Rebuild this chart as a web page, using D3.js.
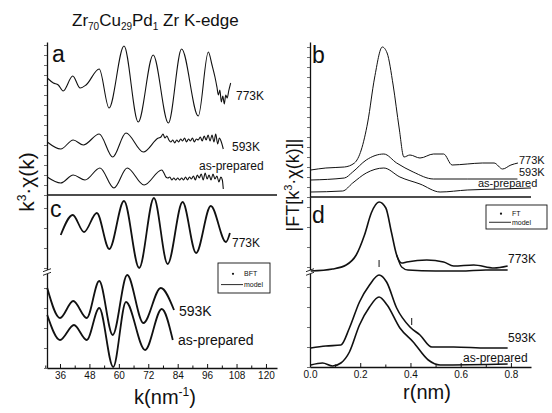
<!DOCTYPE html>
<html>
<head>
<meta charset="utf-8">
<script src="https://cdn.jsdelivr.net/npm/d3@7"></script>
<style>
  body { margin: 0; background: #fff; }
  text { font-family: "Liberation Sans", Arial, sans-serif; fill: #111; }
</style>
</head>
<body>
<div id="chart"></div>
<script>
// k-space tick labels (nm^-1) and r-space tick labels (nm)
var kTicks = [36, 48, 60, 72, 84, 96, 108, 120];
var kMinor = [30, 42, 54, 66, 78, 90, 102, 114];
var rTicks = [0.0, 0.2, 0.4, 0.6, 0.8];
var rMinor = [0.1, 0.3, 0.5, 0.7];

// panel a: k^3 chi(k), arbitrary units, [k, value]
var a773 = [[30.8,117],[33.3,112],[35.3,110],[37.3,104],[41.2,119],[44.2,107],[46.6,110],[52.0,126],
  [56.0,87],[62.1,149],[67.9,73],[74.0,140],[80.2,72],[85.6,146],[92.4,79],[96.5,143],[98,130],
  [99.2,118],[100,108],[100.6,100],[101.2,105],[101.8,93],[102.4,99],[103,91],[103.6,100],
  [104.2,97],[104.8,104],[105.6,112]];
var a593 = [[30.8,53],[36.3,46],[41.4,55],[45.5,50],[52.0,61],[57.5,38],[62.9,62],[70.0,43],[76.1,57],
  [77.2,58],[78,61],[78.8,57],[79.6,59],[80.4,55],[81.2,53],[82,55],[82.8,52],[83.6,55],[84.4,53],
  [85.2,56],[86,54],[86.8,57],[87.6,53],[88.4,56],[89.2,54],[90,57],[90.8,53],[91.6,56],[92.4,55],
  [93.2,58],[94,54],[94.8,59],[95.6,55],[96.4,60],[97.2,54],[98,60],[98.8,53],[99.5,61],[100.3,51],
  [101,57],[101.8,53],[102.6,46]];
var aAsPrep = [[30.8,18],[36.3,12],[41.4,20],[46.2,15],[52.3,27],[58.0,7],[63.4,27],[70.3,10],[77.5,25],
  [78.4,22],[79.2,18],[80,17],[80.8,18],[81.6,15],[82.4,17],[83.2,15],[84,17],[84.8,15],[85.6,17],
  [86.4,15],[87.2,18],[88,15],[88.8,18],[89.6,16],[90.4,19],[91.2,15],[92,20],[92.8,17],[93.6,21],
  [94.4,15],[95.2,22],[96,16],[96.8,20],[97.6,15],[98.4,21],[99.2,16],[100,19],[100.8,13],[101.6,18],
  [102.2,15],[102.6,6]];

// panel c: back-FT and model
var c773 = [[36.3,133],[41.2,153],[45.8,136],[51.0,155],[56.1,119],[62.1,167],[68.3,100],[74.3,170],
  [79.9,104],[86.0,166],[91.5,115],[97.5,162],[103.7,126],[105.3,135]];
var c593 = [[30.8,80],[36.0,50],[41.4,67],[46.9,50],[52.0,87],[57.5,33],[63.4,93],[70.0,45],[77.1,80],[82.5,58]];
var cAsPrep = [[30.8,53],[36.0,28],[41.7,43],[46.9,28],[52.0,60],[57.7,1],[62.9,66],[70.7,18],[77.5,59],[82.0,28]];

// panel b: |FT| in r-space, [r, value]
var b773 = [[0.003,27],[0.063,29],[0.137,30],[0.177,34],[0.204,47],[0.230,75],[0.257,119],[0.288,150],
  [0.307,144],[0.331,112],[0.355,69],[0.374,40],[0.398,42],[0.438,39],[0.492,43],[0.532,43],[0.566,32],
  [0.626,33],[0.686,34],[0.733,34],[0.767,28],[0.800,32],[0.828,34]];
var b593 = [[0.003,17],[0.137,19],[0.170,25],[0.224,37],[0.294,43],[0.345,34],[0.411,25],[0.492,18],
  [0.626,18],[0.826,18]];
var bAsPrep = [[0.003,5],[0.130,6],[0.170,14],[0.224,24],[0.294,29],[0.358,20],[0.438,13],[0.518,5],
  [0.626,7],[0.760,8],[0.880,9]];

// panel d: FT and model
var d773 = [[0.003,96],[0.090,98],[0.144,102],[0.184,112],[0.217,132],[0.244,154],[0.275,165],[0.302,159],
  [0.324,135],[0.345,112],[0.365,104],[0.385,105],[0.465,107],[0.532,105],[0.572,101],[0.652,102],
  [0.733,99],[0.787,101]];
var d773model = [[0.345,112],[0.365,100],[0.39,97],[0.5,96],[0.6,96],[0.7,97],[0.787,97]];
var d593 = [[0.003,19],[0.063,21],[0.123,22],[0.157,39],[0.197,65],[0.237,82],[0.275,92],[0.305,85],
  [0.345,59],[0.398,40],[0.438,32],[0.485,20],[0.572,20],[0.706,19],[0.787,19]];
var dAsPrep = [[0.003,2],[0.050,4],[0.090,1],[0.123,4],[0.157,15],[0.197,42],[0.237,60],[0.275,70],
  [0.307,62],[0.358,39],[0.411,25],[0.471,7],[0.518,2],[0.787,3]];
var dMarks = [[0.275,98],[0.405,40]];

var W = 552, H = 413;
var svg = d3.select("#chart").append("svg").attr("width", W).attr("height", H);

var xK = d3.scaleLinear().domain([30.7, 124.5]).range([47, 277]);
var yA = d3.scaleLinear().domain([0, 153]).range([195, 42]);
var yC = d3.scaleLinear().domain([0, 173]).range([368, 195]);
var xR = d3.scaleLinear().domain([0, 0.88]).range([310, 531]);
var yB = d3.scaleLinear().domain([0, 155]).range([197, 42]);
var yD = d3.scaleLinear().domain([0, 170]).range([367, 197]);

function drawLine(data, x, y, w) {
  svg.append("path")
    .datum(data)
    .attr("fill", "none")
    .attr("stroke", "#111")
    .attr("stroke-width", w)
    .attr("stroke-linejoin", "round")
    .attr("d", d3.line().x(function (d) { return x(d[0]); }).y(function (d) { return y(d[1]); })
      .curve(d3.curveMonotoneX));
}

// axes frames
function yAxis(scale, x, n) {
  var g = svg.append("g").attr("transform", "translate(" + x + ",0)")
    .call(d3.axisLeft(scale).ticks(n).tickSize(3).tickSizeOuter(0).tickFormat(""));
  g.selectAll("line").attr("stroke", "#333").attr("stroke-width", 0.7);
  g.select(".domain").attr("stroke", "#111").attr("stroke-width", 1.3);
}
yAxis(yA, 47, 12); yAxis(yC, 47, 12);
yAxis(yB, 310, 12); yAxis(yD, 310, 12);

function xAxis(scale, y, major, minor, fmt) {
  var g = svg.append("g").attr("transform", "translate(0," + y + ")")
    .call(d3.axisBottom(scale).tickValues(major).tickSize(-4).tickSizeOuter(0).tickPadding(4).tickFormat(fmt));
  g.select(".domain").attr("stroke", "#111").attr("stroke-width", 1.3);
  g.selectAll("line").attr("stroke", "#111");
  g.selectAll("text").style("font-size", "10px").style("fill", "#111");
  var m = svg.append("g").attr("transform", "translate(0," + y + ")")
    .call(d3.axisBottom(scale).tickValues(minor).tickSize(-2.5).tickFormat(""));
  m.select(".domain").remove();
  m.selectAll("line").attr("stroke", "#111");
}
xAxis(xK, yC(0), kTicks, kMinor, d3.format("d"));
xAxis(xR, yD(0), rTicks, rMinor, d3.format(".1f"));

// panel dividers
svg.append("line").attr("x1", xK.range()[0]).attr("x2", xK.range()[1]).attr("y1", yA(0)).attr("y2", yA(0))
  .attr("stroke", "#111").attr("stroke-width", 1.3);
svg.append("line").attr("x1", xR.range()[0]).attr("x2", xR.range()[1]).attr("y1", yB(0)).attr("y2", yB(0))
  .attr("stroke", "#111").attr("stroke-width", 1.3);

// axis breaks
function brk(x, y) {
  svg.append("rect").attr("x", x - 4).attr("y", y - 2).attr("width", 8).attr("height", 4).attr("fill", "#fff");
  [-1.8, 1.8].forEach(function (o) {
    svg.append("line").attr("x1", x - 4).attr("y1", y + o + 1.5).attr("x2", x + 4).attr("y2", y + o - 1.5)
      .attr("stroke", "#111").attr("stroke-width", 0.9);
  });
}
brk(47, yC(96));
brk(310, yD(95));

// curves
drawLine(a773, xK, yA, 1.1);
drawLine(a593, xK, yA, 1.1);
drawLine(aAsPrep, xK, yA, 1.1);
drawLine(c773, xK, yC, 1.8);
drawLine(c593, xK, yC, 1.8);
drawLine(cAsPrep, xK, yC, 1.8);
drawLine(b773, xR, yB, 1.0);
drawLine(b593, xR, yB, 1.0);
drawLine(bAsPrep, xR, yB, 1.0);
drawLine(d773, xR, yD, 1.6);
drawLine(d773model, xR, yD, 1.3);
drawLine(d593, xR, yD, 1.6);
drawLine(dAsPrep, xR, yD, 1.6);

dMarks.forEach(function (d) {
  svg.append("line").attr("x1", xR(d[0])).attr("x2", xR(d[0]))
    .attr("y1", yD(d[1]) - 2).attr("y2", yD(d[1]) - 9).attr("stroke", "#111").attr("stroke-width", 1);
});

// texts
function txt(x, y, s, size, anchor) {
  return svg.append("text").attr("x", x).attr("y", y).attr("text-anchor", anchor || "start")
    .style("font-size", size + "px").text(s);
}

// title
var t = svg.append("text").attr("x", 72).attr("y", 26).style("font-size", "17px");
t.append("tspan").text("Zr");
t.append("tspan").attr("dy", 4).style("font-size", "10px").text("70");
t.append("tspan").attr("dy", -4).text("Cu");
t.append("tspan").attr("dy", 4).style("font-size", "10px").text("29");
t.append("tspan").attr("dy", -4).text("Pd");
t.append("tspan").attr("dy", 4).style("font-size", "10px").text("1");
t.append("tspan").attr("dy", -4).text(" Zr K-edge");

// panel letters
txt(52, 62, "a", 23); txt(50, 217, "c", 23);
txt(312, 63, "b", 23); txt(312, 223, "d", 23);

// curve labels
txt(236, 100, "773K", 12); txt(232, 151, "593K", 12); txt(199, 170, "as-prepared", 12);
txt(232, 247, "773K", 12); txt(179, 316, "593K", 14); txt(178, 345, "as-prepared", 14);
txt(519, 164, "773K", 11); txt(519, 176, "593K", 11); txt(478, 187, "as-prepared", 11);
txt(508, 263, "773K", 12); txt(508, 342, "593K", 12); txt(463, 362, "as-prepared", 12);

// legends
function legend(x, y, w, h, lab) {
  svg.append("rect").attr("x", x).attr("y", y).attr("width", w).attr("height", h)
    .attr("fill", "#fff").attr("stroke", "#111").attr("stroke-width", 0.9);
  svg.append("circle").attr("cx", x + 15).attr("cy", y + h * 0.36).attr("r", 1.1).attr("fill", "#111");
  txt(x + 26, y + h * 0.36 + 2.5, lab, 7);
  svg.append("line").attr("x1", x + 3).attr("x2", x + 25).attr("y1", y + h * 0.72).attr("y2", y + h * 0.72)
    .attr("stroke", "#111").attr("stroke-width", 0.9);
  txt(x + 26, y + h * 0.72 + 2.5, "model", 7);
}
legend(218, 263, 52, 30, "BFT");
legend(486, 205, 61, 24, "FT");

// axis titles
var yl = svg.append("text").attr("transform", "translate(34,182) rotate(-90)")
  .attr("text-anchor", "middle").style("font-size", "21px");
yl.append("tspan").text("k");
yl.append("tspan").attr("dy", -8).style("font-size", "12px").text("3");
yl.append("tspan").attr("dy", 8).text("\u00b7\u03c7(k)");

var yr = svg.append("text").attr("transform", "translate(299,185) rotate(-90)")
  .attr("text-anchor", "middle").style("font-size", "18px");
yr.append("tspan").text("|FT[k");
yr.append("tspan").attr("dy", -7).style("font-size", "11px").text("3");
yr.append("tspan").attr("dy", 7).text("\u00b7\u03c7(k)]|");

var xl = svg.append("text").attr("x", 165).attr("y", 404).attr("text-anchor", "middle").style("font-size", "20px");
xl.append("tspan").text("k(nm");
xl.append("tspan").attr("dy", -8).style("font-size", "12px").text("-1");
xl.append("tspan").attr("dy", 8).text(")");

txt(427, 399, "r(nm)", 20, "middle");
</script>
</body>
</html>
